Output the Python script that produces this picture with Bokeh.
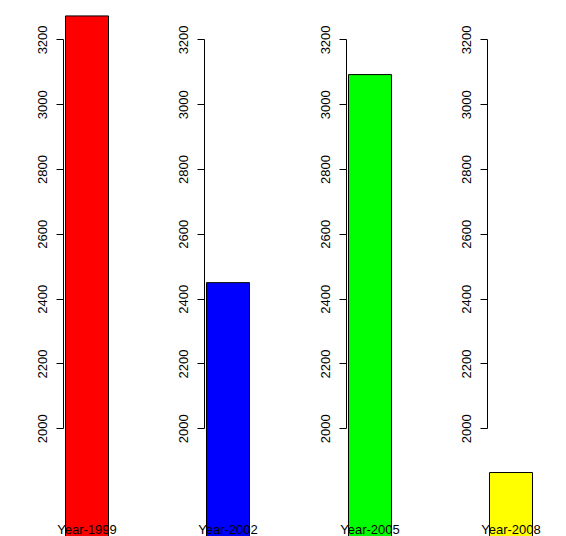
from bokeh.plotting import figure
from bokeh.layouts import row
from bokeh.models import Range1d, FactorRange, FixedTicker, LinearAxis, CategoricalAxis, ColumnDataSource
from bokeh.embed import file_html
from bokeh.resources import INLINE

# ---- data ----
years = ["Year-1999", "Year-2002", "Year-2005", "Year-2008"]
values = [3274, 2451, 3093, 1865]
colors = ["#FF0000", "#0000FF", "#00FF00", "#FFFF00"]
y_ticks = [2000, 2200, 2400, 2600, 2800, 3000, 3200]

FONT = "Liberation Sans"
FS = "13px"
fig_widths = [149, 142, 141, 134]
left_borders = [63, 55, 55, 55]
FRAME_W = 47
FRAME_H = 536

figs = []
for i, (yr, val, col) in enumerate(zip(years, values, colors)):
    w = fig_widths[i]
    L = left_borders[i]
    p = figure(frame_width=FRAME_W, frame_height=FRAME_H,
               x_range=FactorRange(factors=[yr], range_padding=0),
               y_range=Range1d(1667.6, 3321.6),
               output_backend="svg", toolbar_location=None,
               x_axis_location=None, y_axis_location=None,
               min_border_left=L, min_border_right=w - L - FRAME_W,
               min_border_top=0, min_border_bottom=0)
    p.outline_line_color = None
    p.grid.visible = False
    p.background_fill_color = "white"
    p.border_fill_color = "white"

    src = ColumnDataSource(dict(x=[yr], top=[val]))
    p.vbar(x="x", top="top", bottom=1500, width=0.915, source=src,
           fill_color=col, line_color="black", line_width=1)

    ax = LinearAxis(ticker=FixedTicker(ticks=y_ticks, minor_ticks=[]),
                    bounds=(y_ticks[0], y_ticks[-1]))
    ax.axis_line_color = "black"
    ax.axis_line_width = 1
    ax.major_tick_line_color = "black"
    ax.major_tick_out = 7
    ax.major_tick_in = 0
    ax.minor_tick_line_color = None
    ax.major_label_orientation = "vertical"
    ax.major_label_standoff = 9
    ax.major_label_text_font = FONT
    ax.major_label_text_font_size = FS
    ax.major_label_text_color = "black"
    p.add_layout(ax, "left")

    xax = CategoricalAxis()
    xax.axis_line_color = None
    xax.major_tick_line_color = None
    xax.minor_tick_line_color = None
    xax.major_tick_out = 0
    xax.major_tick_in = 0
    xax.major_label_standoff = -15
    xax.major_label_text_font = FONT
    xax.major_label_text_font_size = FS
    xax.major_label_text_color = "black"
    p.add_layout(xax, "below")
    figs.append(p)

layout = row(*figs, spacing=0)
open("out.html", "w").write(file_html(layout, INLINE))
